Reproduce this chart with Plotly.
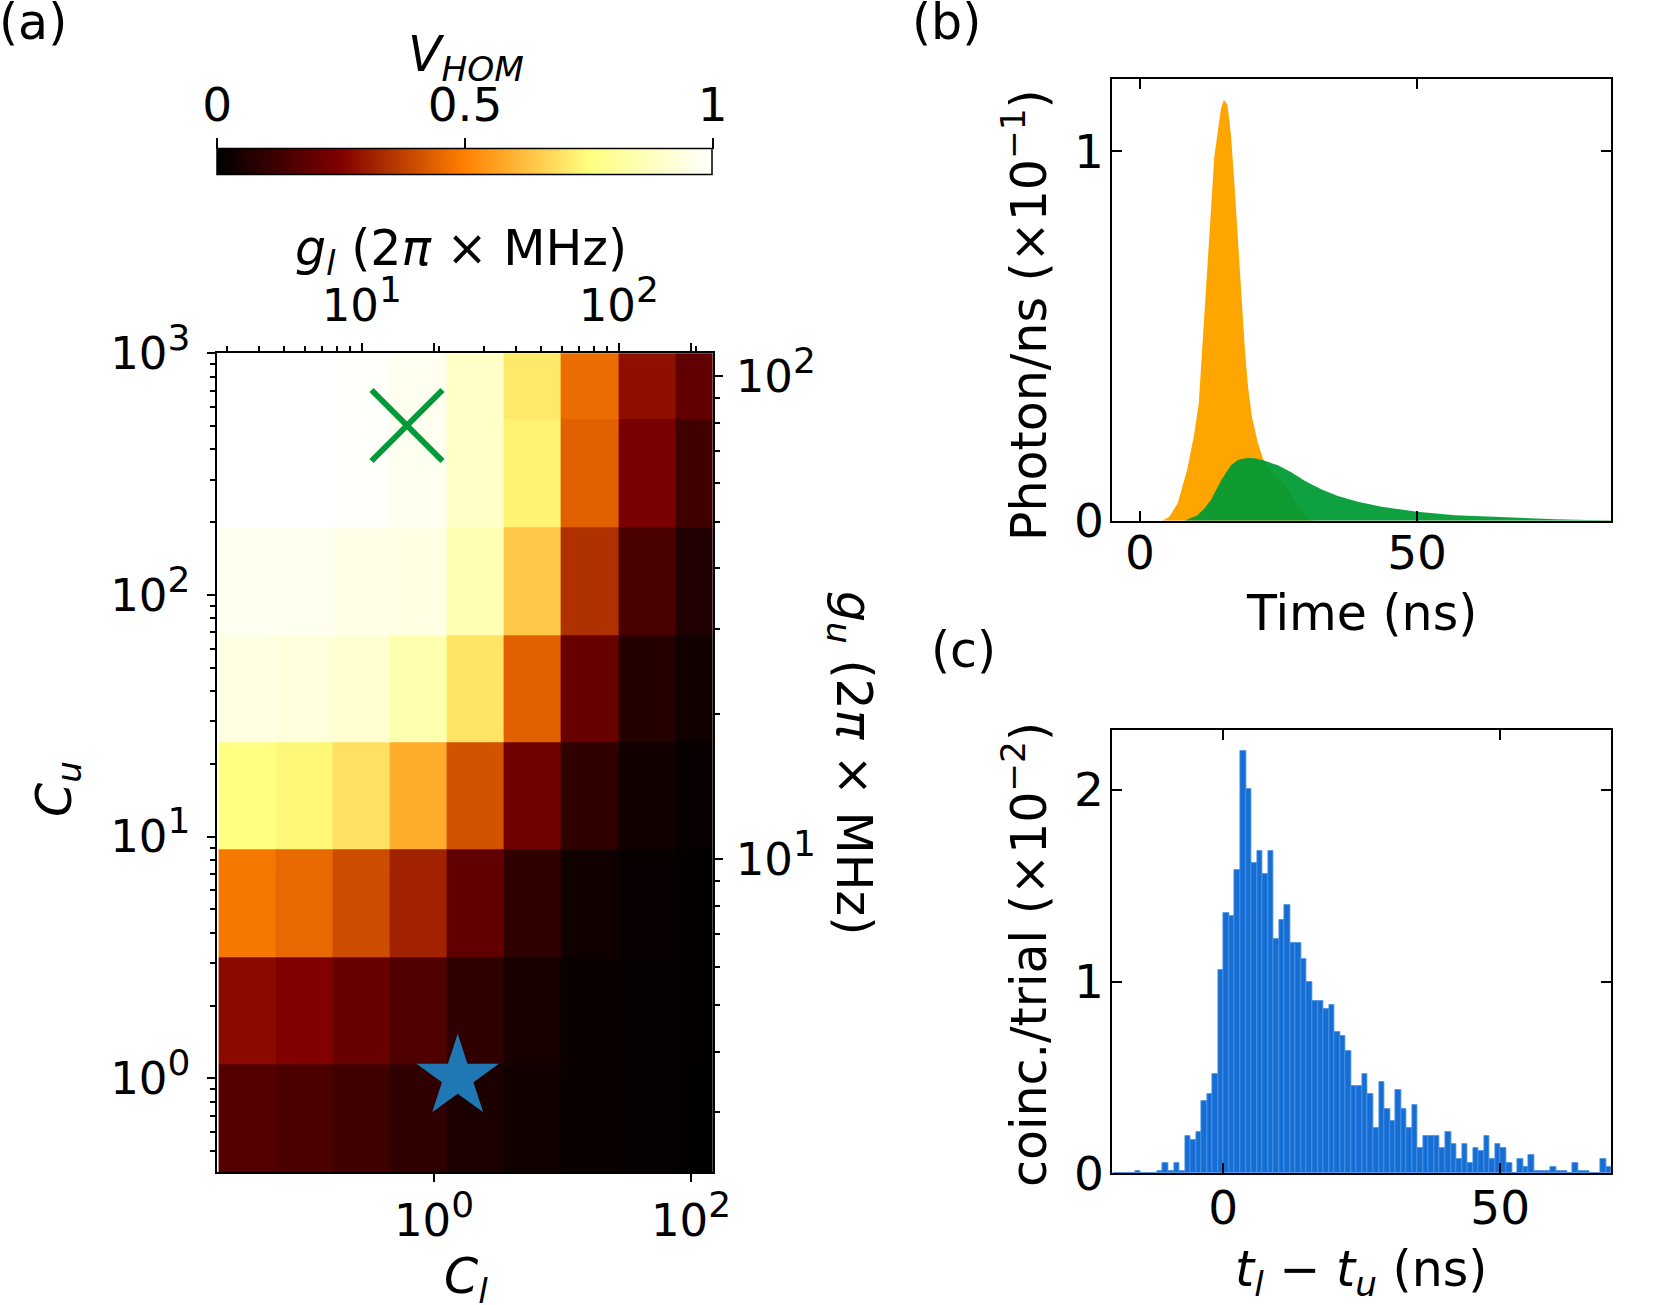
import plotly.graph_objects as go

W, H = 1661, 1305

def px(x):
    return x / W

def py(y):
    return 1 - y / H

# ---- panel (a): V_HOM map ----
# cell edges, log10 units
cl_edges_log = [-1.676, -1.232, -0.788, -0.342, 0.102, 0.545, 0.989, 1.435, 1.881, 2.325]
cu_edges_log = [-0.389, 0.058, 0.503, 0.947, 1.390, 1.835, 2.279, 2.727, 3.17]
# rows from low C_u to high C_u
v_hom = [
    [0.165, 0.149, 0.125, 0.094, 0.055, 0.031, 0.020, 0.012, 0.006],
    [0.270, 0.251, 0.204, 0.157, 0.094, 0.047, 0.020, 0.012, 0.008],
    [0.485, 0.455, 0.400, 0.315, 0.188, 0.094, 0.031, 0.016, 0.010],
    [0.751, 0.735, 0.690, 0.584, 0.411, 0.220, 0.094, 0.031, 0.016],
    [0.947, 0.931, 0.908, 0.845, 0.697, 0.440, 0.204, 0.071, 0.031],
    [0.970, 0.970, 0.955, 0.947, 0.853, 0.642, 0.345, 0.145, 0.063],
    [1.000, 1.000, 0.995, 0.970, 0.890, 0.727, 0.440, 0.235, 0.125],
    [1.000, 1.000, 0.995, 0.970, 0.890, 0.707, 0.461, 0.277, 0.188],
]
star_cl, star_cu = [1.53], [1.01]
cross_gl, cross_gu = [15.0], [79.0]

afmhot = [[0, "rgb(0,0,0)"], [0.25, "rgb(128,0,0)"], [0.5, "rgb(255,128,0)"],
          [0.75, "rgb(255,255,128)"], [1, "rgb(255,255,255)"]]

# ---- panel (b): photon emission ----
t_orange = [-5, 4.0, 5.3, 6.8, 8.5, 9.7, 10.6, 11.6, 12.2, 12.8, 13.4, 14.0, 14.6, 15.1,
            15.5, 15.8, 16.4, 17.0, 17.6, 18.3, 18.9, 19.5, 20.2, 21.3, 22.2, 23.7,
            26.1, 28.5, 30.6, 32, 85]
p_orange = [0, 0, 0.011, 0.047, 0.137, 0.227, 0.317, 0.569, 0.714, 0.84, 0.985, 1.056,
            1.115, 1.139, 1.133, 1.124, 1.047, 0.921, 0.768, 0.605, 0.47, 0.362, 0.281,
            0.209, 0.168, 0.13, 0.101, 0.038, 0.002, 0, 0]
t_green = [-5, 8.0, 10.4, 11.6, 12.8, 14.6, 16.4, 17.6, 18.3, 19.5, 20.7, 22.5, 24.9,
           27.3, 29.7, 32.7, 35.7, 39.3, 43.6, 50, 56.8, 65.8, 74.9, 80.9, 85]
p_green = [0, 0, 0.015, 0.033, 0.056, 0.108, 0.15, 0.164, 0.167, 0.170, 0.169, 0.162,
           0.150, 0.131, 0.108, 0.085, 0.067, 0.051, 0.038, 0.024, 0.015, 0.009, 0.004,
           0.002, 0.001]

# ---- panel (c): coincidence histogram, 1 ns bins from -20 ns ----
bin_starts = list(range(-20, 70))
coinc = [0, 0, 0, 0, 0.014, 0, 0, 0, 0.014, 0.052, 0.014, 0.052, 0.014, 0.195, 0.174,
         0.214, 0.375, 0.415, 0.516, 1.059, 1.359, 1.34, 1.58, 2.202, 2.002, 1.62, 1.68,
         1.56, 1.68, 1.22, 1.319, 1.399, 1.199, 1.199, 1.118, 0.998, 0.897, 0.897, 0.857,
         0.878, 0.737, 0.718, 0.636, 0.456, 0.456, 0.516, 0.415, 0.235, 0.477, 0.336,
         0.275, 0.437, 0.336, 0.235, 0.355, 0.134, 0.195, 0.195, 0.195, 0.134, 0.214,
         0.155, 0.073, 0.155, 0.054, 0.134, 0.115, 0.195, 0.073, 0.155, 0.134, 0.054, 0,
         0.073, 0.033, 0.094, 0.014, 0.014, 0.014, 0.033, 0.014, 0.014, 0, 0.054, 0.014,
         0.014, 0, 0, 0.073, 0.033]

cbar_ticks = [0, 0.5, 1]

FONT = "DejaVu Sans"
TICK = 47
LOGTICK = 45
LAB = 49

fig = go.Figure()

fig.add_trace(go.Heatmap(
    x=[10 ** e for e in cl_edges_log], y=[10 ** e for e in cu_edges_log], z=v_hom,
    zmin=0, zmax=1, colorscale=afmhot, xaxis="x", yaxis="y",
    colorbar=dict(orientation="h", x=px(217.3), xanchor="left", len=495.4 / W,
                  lenmode="fraction", y=py(176), yanchor="bottom", thickness=26,
                  xpad=0, ypad=0, outlinewidth=1.5, outlinecolor="black",
                  ticks="", showticklabels=False),
))
fig.add_trace(go.Scatter(x=star_cl, y=star_cu, mode="markers", xaxis="x", yaxis="y",
                         marker=dict(symbol="star", size=62, color="#1f77b4"),
                         showlegend=False))
fig.add_trace(go.Scatter(x=cross_gl, y=cross_gu, mode="markers", xaxis="x2", yaxis="y2",
                         marker=dict(symbol="x-thin", size=71,
                                     line=dict(width=6, color="#009a3a")),
                         showlegend=False))
# invisible helper so the colour-bar tick axis gets drawn
fig.add_trace(go.Scatter(x=cbar_ticks, y=cbar_ticks, mode="markers", marker=dict(opacity=0),
                         hoverinfo="skip", xaxis="x3", yaxis="y3", showlegend=False))

fig.add_trace(go.Scatter(x=t_orange, y=p_orange, mode="lines", fill="tozeroy",
                         fillcolor="#ffa500", line=dict(width=0, color="#ffa500"),
                         xaxis="x5", yaxis="y5", showlegend=False))
fig.add_trace(go.Scatter(x=t_green, y=p_green, mode="lines", fill="tozeroy",
                         fillcolor="rgba(0,154,52,0.94)", line=dict(width=0, color="rgba(0,154,52,0.94)"),
                         xaxis="x5", yaxis="y5", showlegend=False))

fig.add_trace(go.Bar(x=[b + 0.6 for b in bin_starts], y=coinc, width=1,
                     marker=dict(color="rgb(22,110,212)",
                                 line=dict(color="rgb(70,145,225)", width=0.8)),
                     xaxis="x6", yaxis="y6", showlegend=False))

def sup(n):
    return "10<sup><span style='font-size:36px'>%s</span></sup>" % n

minor_dec = [m * 10 ** e for e in range(-1, 4) for m in range(2, 10)]
line_kw = dict(showline=True, linewidth=2, linecolor="black", showgrid=False, zeroline=False,
               tickcolor="black", tickwidth=2, tickfont=dict(size=TICK))
log_kw = dict(line_kw, tickfont=dict(size=LOGTICK))
minor_kw = dict(tickmode="array", tickvals=minor_dec, ticks="outside", ticklen=5,
                tickwidth=1.5, tickcolor="black")

xd = [px(217.3), px(712.7)]
yd = [py(1172.3), py(353.3)]
fig.update_layout(
    xaxis=dict(type="log", domain=xd, range=[-1.686, 2.169], anchor="y",
               tickvals=[1, 100], ticktext=[sup(0), sup(2)], ticks="outside", ticklen=8,
               mirror="ticks", ticklabelstandoff=0, **log_kw),
    yaxis=dict(type="log", domain=yd, range=[-0.389, 3.0], anchor="x",
               tickvals=[1, 10, 100, 1000], ticktext=[sup(0), sup(1), sup(2), sup(3)],
               ticks="outside", ticklen=8, ticklabelstandoff=8, minor=minor_kw, **log_kw),
    xaxis2=dict(type="log", overlaying="x", side="top", anchor="y", range=[0.438, 2.3655],
                tickvals=[10, 100], ticktext=[sup(1), sup(2)], ticks="outside", ticklen=8,
                ticklabelstandoff=4, minor=minor_kw, **log_kw),
    yaxis2=dict(type="log", overlaying="y", side="right", anchor="x", range=[0.3525, 2.047],
                tickvals=[10, 100], ticktext=[sup(1), sup(2)], ticks="outside", ticklen=8,
                ticklabelstandoff=4, minor=minor_kw, **log_kw),
    # axis carrying the colour bar ticks
    xaxis3=dict(domain=xd, anchor="y3", side="top", range=[0, 1], tickvals=cbar_ticks,
                ticktext=["0", "0.5", "1"], ticks="outside", ticklen=11, tickwidth=1.5,
                tickcolor="black", showline=False, showgrid=False, zeroline=False,
                ticklabelstandoff=-2, tickfont=dict(size=TICK), fixedrange=True),
    yaxis3=dict(domain=[py(176), py(150)], anchor="x3", range=[0, 1], visible=False,
                fixedrange=True),
    xaxis5=dict(domain=[px(1112.3), px(1611)], anchor="y5", range=[-5, 85], tickvals=[0, 50],
                ticks="inside", ticklen=10, mirror="ticks", ticklabelstandoff=-10, **line_kw),
    yaxis5=dict(domain=[py(520.7), py(79)], anchor="x5", range=[0, 1.196], tickvals=[0, 1],
                ticks="inside", ticklen=10, mirror="ticks", ticklabelstandoff=-3, **line_kw),
    xaxis6=dict(domain=[px(1112.3), px(1611)], anchor="y6", range=[-20, 70], tickvals=[0, 50],
                ticks="inside", ticklen=10, mirror="ticks", ticklabelstandoff=-8, **line_kw),
    yaxis6=dict(domain=[py(1173.3), py(730)], anchor="x6", range=[0, 2.312], tickvals=[0, 1, 2],
                ticks="inside", ticklen=10, mirror="ticks", ticklabelstandoff=-3, **line_kw),
    width=W, height=H, margin=dict(l=0, r=0, t=0, b=0, autoexpand=False),
    paper_bgcolor="white", plot_bgcolor="white", bargap=0,
    font=dict(family=FONT, color="black", size=TICK), showlegend=False,
)

labels = [
    ("(a)", 33, 23, 0),
    ("(b)", 946, 23, 0),
    ("(c)", 963, 650, 0),
    ("<i>V<sub>HOM</sub></i>", 466, 57, 0),
    ("<i>g<sub>l</sub></i> (2<i>π</i> × MHz)", 461, 251, 0),
    ("<i>C<sub>u</sub></i>", 58, 789, -90),
    ("<i>C<sub>l</sub></i>", 466, 1279, 0),
    ("<i>g<sub>u</sub></i> (2<i>π</i> × MHz)", 851, 763, 90),
    ("Photon/ns (×10<sup>−1</sup>)", 1025, 315, -90),
    ("Time (ns)", 1361, 614, 0),
    ("coinc./trial (×10<sup>−2</sup>)", 1025, 955, -90),
    ("<i>t<sub>l</sub></i> − <i>t<sub>u</sub></i> (ns)", 1361, 1272, 0),
]
for text, x, y, ang in labels:
    fig.add_annotation(text=text, x=px(x), y=py(y), xref="paper", yref="paper",
                       showarrow=False, textangle=ang, xanchor="center", yanchor="middle",
                       font=dict(size=LAB, family=FONT, color="black"))

# drop the default 8px page margin so paper pixels line up with the window
fig.write_html("out.html", config={"displayModeBar": False},
               post_script="document.body.style.margin='0px';")
